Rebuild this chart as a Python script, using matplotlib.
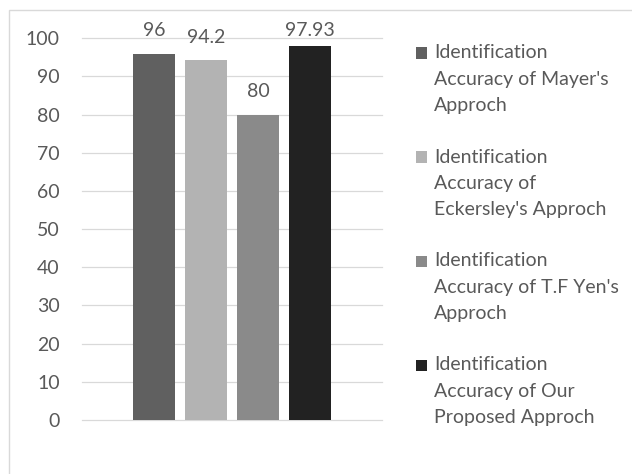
import matplotlib
matplotlib.use("Agg")
import matplotlib.pyplot as plt
from matplotlib.patches import Rectangle

categories = ["Identification\nAccuracy of Mayer's\nApproch",
              "Identification\nAccuracy of\nEckersley's Approch",
              "Identification\nAccuracy of T.F Yen's\nApproch",
              "Identification\nAccuracy of Our\nProposed Approch"]
values = [96, 94.2, 80, 97.93]
value_labels = ["96", "94.2", "80", "97.93"]
colors = ["#606060", "#b3b3b3", "#8a8a8a", "#222222"]
yticks = [0, 10, 20, 30, 40, 50, 60, 70, 80, 90, 100]

W, H = 632, 474
DPI = 100
plt.rcParams['font.family'] = ['Lato', 'DejaVu Sans']
TXT = "#595959"
FS = 14

fig = plt.figure(figsize=(W / DPI, H / DPI), dpi=DPI)

# chart area border (top and left visible)
fig.patches.append(Rectangle((9 / W, -0.1), 1.2, 1.1 - 10 / H,
                             transform=fig.transFigure, fill=False,
                             edgecolor="#d9d9d9", linewidth=1.0))

ax = fig.add_axes([82 / W, 54 / H, 300 / W, (420 - 38.3) / H])
x = list(range(len(values)))
bars = ax.bar(x, values, width=0.79, color=colors, zorder=3)
ax.set_xlim(1.5 - 2.885, 1.5 + 2.885)
ax.set_ylim(0, 100)
ax.set_yticks(yticks)
ax.set_xticks([])
for s in ax.spines.values():
    s.set_visible(False)
ax.tick_params(axis='y', length=0, pad=16, labelsize=FS, labelcolor=TXT)
for t in yticks:
    ax.axhline(t, color="#d9d9d9", linewidth=0.9, zorder=1, clip_on=False)

offsets = [23, 23, 23, 16]
for b, lab, off in zip(bars, value_labels, offsets):
    ax.annotate(lab, (b.get_x() + b.get_width() / 2, b.get_height()),
                xytext=(0, off * 72 / DPI), textcoords='offset points',
                ha='center', va='center', fontsize=FS, color=TXT)

# legend drawn manually
for i, (lab, c) in enumerate(zip(categories, colors)):
    y0 = 53 + 104 * i
    fig.patches.append(Rectangle((416 / W, 1 - (y0 + 5.5) / H), 11 / W, 11 / H,
                                 transform=fig.transFigure, facecolor=c,
                                 edgecolor='none'))
    for j, line in enumerate(lab.split("\n")):
        fig.text(434 / W, 1 - (y0 + 26.3 * j) / H, line, ha='left', va='center',
                 fontsize=FS, color=TXT)

fig.savefig("out.png", dpi=DPI, facecolor="white")
